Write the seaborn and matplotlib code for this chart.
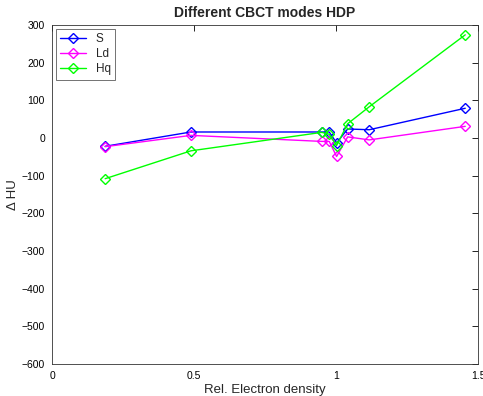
import matplotlib
matplotlib.use("Agg")
import matplotlib.pyplot as plt
import seaborn as sns
import pandas as pd

density = [0.187, 0.489, 0.95, 0.976, 1.002, 1.041, 1.117, 1.455]
s_vals = [-22, 16, 16, 16, -13, 24, 22, 79]
ld_vals = [-23, 7, -9, -9, -49, 3, -5, 31]
hq_vals = [-108, -34, 15, 10, -20, 38, 83, 274]
series = ["S", "Ld", "Hq"]
colors = ["#0000ff", "#ff00ff", "#00ff00"]

sns.set_style("white")
plt.rcParams['font.family'] = ['Liberation Sans', 'DejaVu Sans']

fig = plt.figure(figsize=(4.83, 3.96), dpi=100)
ax = fig.add_axes([0.1077, 0.0808, 0.882, 0.856])

rows = []
for name, vals in zip(series, [s_vals, ld_vals, hq_vals]):
    for x, y in zip(density, vals):
        rows.append({"density": x, "dHU": y, "mode": name})
df = pd.DataFrame(rows)

for name, col in zip(series, colors):
    sub = df[df["mode"] == name]
    sns.lineplot(data=sub, x="density", y="dHU", ax=ax, color=col, lw=1,
                 marker="D", markersize=5.5, markerfacecolor="none",
                 markeredgecolor=col, markeredgewidth=1, label=name,
                 sort=False, estimator=None)

ax.set_xlim(0, 1.5)
ax.set_ylim(-600, 300)
ax.set_xticks([0, 0.5, 1, 1.5])
ax.set_xticklabels(["0", "0.5", "1", "1.5"])
ax.set_yticks(range(-600, 301, 100))
ax.tick_params(direction="in", length=4, labelsize=7.5, colors="black",
               top=True, right=True, width=0.6, pad=5)
for sp in ax.spines.values():
    sp.set_color("#333333")
    sp.set_linewidth(0.6)
ax.set_xlabel("Rel. Electron density", fontsize=9.5, labelpad=2)
ax.set_ylabel("Δ HU", fontsize=9.5, labelpad=2)
ax.set_title("Different CBCT modes HDP", fontsize=10, fontweight="bold")
leg = ax.legend(loc="upper left", fontsize=8.5, frameon=True, fancybox=False,
                borderaxespad=0.3, handlelength=2.2, labelspacing=0.25)
leg.get_frame().set_edgecolor("#333333")
leg.get_frame().set_linewidth(0.6)

fig.savefig("out.png", dpi=100)
